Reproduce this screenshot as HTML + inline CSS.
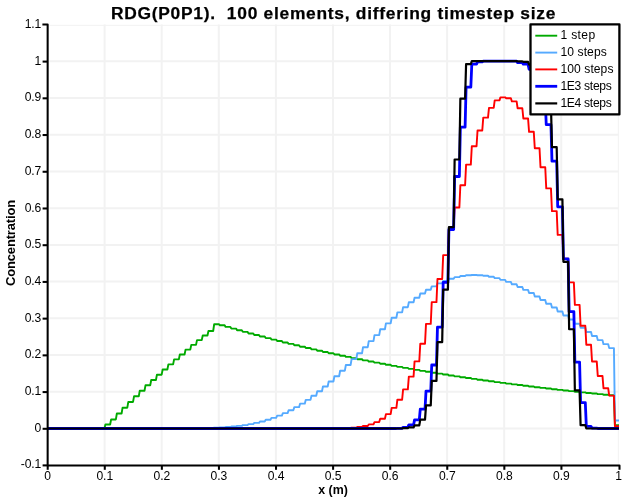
<!DOCTYPE html>
<html><head><meta charset="utf-8"><title>plot</title>
<style>
html,body{margin:0;padding:0;background:#fff;}
body{width:639px;height:504px;position:relative;overflow:hidden;font-family:"Liberation Sans",sans-serif;color:#000;}
.t,.yl,.xl,.lg,.xt,.yt{filter:grayscale(1)}
.t{position:absolute;left:0;width:667px;top:3px;text-align:center;font-weight:bold;font-size:17.4px;line-height:20px;white-space:pre;letter-spacing:0.72px;-webkit-text-stroke:0.25px #000}
.yl{position:absolute;left:0;width:41.3px;text-align:right;font-size:12.1px;line-height:14px;height:14px;letter-spacing:-0.05px}
.xl{position:absolute;top:469.3px;width:40px;text-align:center;font-size:12.1px;line-height:14px;letter-spacing:-0.05px}
.lg{position:absolute;left:560.4px;font-size:12.1px;line-height:14px;white-space:pre}
.xt{position:absolute;left:283px;width:100px;top:483.2px;text-align:center;font-weight:bold;font-size:12.4px;line-height:14px;white-space:pre}
.yt{position:absolute;left:-39px;top:236.4px;width:100px;height:14px;text-align:center;font-weight:bold;font-size:13px;letter-spacing:-0.15px;line-height:14px;transform:rotate(-90deg);transform-origin:50% 50%;white-space:pre}
</style></head><body>
<svg width="639" height="504" viewBox="0 0 639 504" style="position:absolute;left:0;top:0">
<defs><clipPath id="c"><rect x="47.7" y="20" width="571.30" height="450"/></clipPath></defs>
<g stroke="#f2f2f2" stroke-width="2" fill="none"><line x1="104.63" y1="24.5" x2="104.63" y2="464.4" /><line x1="161.71" y1="24.5" x2="161.71" y2="464.4" /><line x1="218.79" y1="24.5" x2="218.79" y2="464.4" /><line x1="275.87" y1="24.5" x2="275.87" y2="464.4" /><line x1="332.95" y1="24.5" x2="332.95" y2="464.4" /><line x1="390.03" y1="24.5" x2="390.03" y2="464.4" /><line x1="447.11" y1="24.5" x2="447.11" y2="464.4" /><line x1="504.19" y1="24.5" x2="504.19" y2="464.4" /><line x1="561.27" y1="24.5" x2="561.27" y2="464.4" /><line x1="49.5" y1="428.50" x2="618.5" y2="428.50" /><line x1="49.5" y1="391.78" x2="618.5" y2="391.78" /><line x1="49.5" y1="355.06" x2="618.5" y2="355.06" /><line x1="49.5" y1="318.34" x2="618.5" y2="318.34" /><line x1="49.5" y1="281.62" x2="618.5" y2="281.62" /><line x1="49.5" y1="244.90" x2="618.5" y2="244.90" /><line x1="49.5" y1="208.18" x2="618.5" y2="208.18" /><line x1="49.5" y1="171.46" x2="618.5" y2="171.46" /><line x1="49.5" y1="134.74" x2="618.5" y2="134.74" /><line x1="49.5" y1="98.02" x2="618.5" y2="98.02" /><line x1="49.5" y1="61.30" x2="618.5" y2="61.30" /></g>
<g stroke="#f2f2f2" stroke-width="1" fill="none"><line x1="618.3" y1="24.5" x2="618.3" y2="464.4" /><line x1="49.5" y1="25.3" x2="618.5" y2="25.3" /></g>
<g clip-path="url(#c)" fill="none" stroke-linejoin="round" stroke-linecap="butt">
<path d="M47.66 428.50 L104.41 428.50 L105.41 424.46 L110.13 424.46 L111.13 419.43 L115.86 419.43 L116.86 413.50 L121.58 413.50 L122.58 407.68 L127.31 407.68 L128.31 401.95 L133.03 401.95 L134.03 396.31 L138.76 396.31 L139.76 390.77 L144.49 390.77 L145.49 385.32 L150.21 385.32 L151.21 379.96 L155.94 379.96 L156.94 374.69 L161.66 374.69 L162.66 369.50 L167.38 369.50 L168.38 364.40 L173.11 364.40 L174.11 359.39 L178.84 359.39 L179.84 354.45 L184.56 354.45 L185.56 349.60 L190.28 349.60 L191.28 344.83 L196.01 344.83 L197.01 340.14 L201.74 340.14 L202.74 335.53 L207.46 335.53 L208.46 330.99 L213.18 330.99 L214.18 324.24 L218.91 324.24 L219.91 325.19 L224.63 325.19 L225.63 326.90 L230.36 326.90 L231.36 328.58 L236.09 328.58 L237.09 330.23 L241.81 330.23 L242.81 331.85 L247.53 331.85 L248.53 333.45 L253.26 333.45 L254.26 335.02 L258.99 335.02 L259.99 336.57 L264.71 336.57 L265.71 338.09 L270.44 338.09 L271.44 339.58 L276.16 339.58 L277.16 341.05 L281.88 341.05 L282.88 342.50 L287.61 342.50 L288.61 343.92 L293.33 343.92 L294.33 345.31 L299.06 345.31 L300.06 346.69 L304.78 346.69 L305.78 348.04 L310.51 348.04 L311.51 349.37 L316.24 349.37 L317.24 350.68 L321.96 350.68 L322.96 351.97 L327.68 351.97 L328.68 353.23 L333.41 353.23 L334.41 354.47 L339.13 354.47 L340.13 355.70 L344.86 355.70 L345.86 356.90 L350.59 356.90 L351.59 358.09 L356.31 358.09 L357.31 359.25 L362.03 359.25 L363.03 360.39 L367.76 360.39 L368.76 361.52 L373.49 361.52 L374.49 362.63 L379.21 362.63 L380.21 363.72 L384.93 363.72 L385.93 364.79 L390.66 364.79 L391.66 365.84 L396.38 365.84 L397.38 366.87 L402.11 366.87 L403.11 367.89 L407.84 367.89 L408.84 368.90 L413.56 368.90 L414.56 369.88 L419.28 369.88 L420.28 370.85 L425.01 370.85 L426.01 371.80 L430.74 371.80 L431.74 372.74 L436.46 372.74 L437.46 373.66 L442.18 373.66 L443.18 374.57 L447.91 374.57 L448.91 375.46 L453.63 375.46 L454.63 376.34 L459.36 376.34 L460.36 377.20 L465.09 377.20 L466.09 378.05 L470.81 378.05 L471.81 378.88 L476.53 378.88 L477.53 379.70 L482.26 379.70 L483.26 380.51 L487.99 380.51 L488.99 381.30 L493.71 381.30 L494.71 382.08 L499.44 382.08 L500.44 382.85 L505.16 382.85 L506.16 383.60 L510.88 383.60 L511.88 384.34 L516.61 384.34 L517.61 385.07 L522.33 385.07 L523.33 385.79 L528.06 385.79 L529.06 386.50 L533.78 386.50 L534.78 387.19 L539.51 387.19 L540.51 387.87 L545.24 387.87 L546.24 388.55 L550.96 388.55 L551.96 389.21 L556.69 389.21 L557.69 389.86 L562.41 389.86 L563.41 390.49 L568.13 390.49 L569.13 391.12 L573.86 391.12 L574.86 391.74 L579.59 391.74 L580.59 392.35 L585.31 392.35 L586.31 392.95 L591.03 392.95 L592.03 393.53 L596.76 393.53 L597.76 394.11 L602.48 394.11 L603.48 394.68 L608.21 394.68 L609.21 395.24 L613.93 395.24 L614.93 425.19 L620.16 425.19" stroke="#00aa00" stroke-width="1.9"/>
<path d="M47.66 428.50 L127.31 428.50 L128.31 428.50 L133.03 428.50 L134.03 428.50 L138.76 428.50 L139.76 428.50 L144.49 428.50 L145.49 428.50 L150.21 428.50 L151.21 428.50 L155.94 428.50 L156.94 428.50 L161.66 428.50 L162.66 428.49 L167.38 428.49 L168.38 428.49 L173.11 428.49 L174.11 428.48 L178.84 428.48 L179.84 428.46 L184.56 428.46 L185.56 428.42 L190.28 428.42 L191.28 428.37 L196.01 428.37 L197.01 428.29 L201.74 428.29 L202.74 428.17 L207.46 428.17 L208.46 428.00 L213.18 428.00 L214.18 427.78 L218.91 427.78 L219.91 427.47 L224.63 427.47 L225.63 427.07 L230.36 427.07 L231.36 426.55 L236.09 426.55 L237.09 425.90 L241.81 425.90 L242.81 425.08 L247.53 425.08 L248.53 424.09 L253.26 424.09 L254.26 422.90 L258.99 422.90 L259.99 421.48 L264.71 421.48 L265.71 419.81 L270.44 419.81 L271.44 417.88 L276.16 417.88 L277.16 415.66 L281.88 415.66 L282.88 413.14 L287.61 413.14 L288.61 410.31 L293.33 410.31 L294.33 407.15 L299.06 407.15 L300.06 403.67 L304.78 403.67 L305.78 399.85 L310.51 399.85 L311.51 395.72 L316.24 395.72 L317.24 391.27 L321.96 391.27 L322.96 386.52 L327.68 386.52 L328.68 381.49 L333.41 381.49 L334.41 376.21 L339.13 376.21 L340.13 370.71 L344.86 370.71 L345.86 365.02 L350.59 365.02 L351.59 359.17 L356.31 359.17 L357.31 353.22 L362.03 353.22 L363.03 347.20 L367.76 347.20 L368.76 341.17 L373.49 341.17 L374.49 335.16 L379.21 335.16 L380.21 329.23 L384.93 329.23 L385.93 323.42 L390.66 323.42 L391.66 317.78 L396.38 317.78 L397.38 312.35 L402.11 312.35 L403.11 307.18 L407.84 307.18 L408.84 302.30 L413.56 302.30 L414.56 297.75 L419.28 297.75 L420.28 293.56 L425.01 293.56 L426.01 289.75 L430.74 289.75 L431.74 286.36 L436.46 286.36 L437.46 283.39 L442.18 283.39 L443.18 280.87 L447.91 280.87 L448.91 278.79 L453.63 278.79 L454.63 277.17 L459.36 277.17 L460.36 276.01 L465.09 276.01 L466.09 275.29 L470.81 275.29 L471.81 275.03 L476.53 275.03 L477.53 275.19 L482.26 275.19 L483.26 275.77 L487.99 275.77 L488.99 276.76 L493.71 276.76 L494.71 278.13 L499.44 278.13 L500.44 279.86 L505.16 279.86 L506.16 281.92 L510.88 281.92 L511.88 284.30 L516.61 284.30 L517.61 286.97 L522.33 286.97 L523.33 289.90 L528.06 289.90 L529.06 293.06 L533.78 293.06 L534.78 296.43 L539.51 296.43 L540.51 299.98 L545.24 299.98 L546.24 303.69 L550.96 303.69 L551.96 307.52 L556.69 307.52 L557.69 311.46 L562.41 311.46 L563.41 315.48 L568.13 315.48 L569.13 319.56 L573.86 319.56 L574.86 323.68 L579.59 323.68 L580.59 327.81 L585.31 327.81 L586.31 331.95 L591.03 331.95 L592.03 336.06 L596.76 336.06 L597.76 340.14 L602.48 340.14 L603.48 344.17 L608.21 344.17 L609.21 348.13 L613.93 348.13 L614.93 420.56 L620.16 420.56" stroke="#55aaff" stroke-width="1.9"/>
<path d="M47.66 428.50 L258.99 428.50 L264.71 428.50 L265.71 428.50 L270.44 428.50 L271.44 428.50 L276.16 428.50 L277.16 428.50 L281.88 428.50 L282.88 428.50 L287.61 428.50 L288.61 428.50 L293.33 428.50 L294.33 428.50 L299.06 428.50 L300.06 428.50 L304.78 428.50 L305.78 428.50 L310.51 428.50 L311.51 428.49 L316.24 428.49 L317.24 428.48 L321.96 428.48 L322.96 428.46 L327.68 428.46 L328.68 428.43 L333.41 428.43 L334.41 428.36 L339.13 428.36 L340.13 428.23 L344.86 428.23 L345.86 428.00 L350.59 428.00 L351.59 427.61 L356.31 427.61 L357.31 426.98 L362.03 426.98 L363.03 425.96 L367.76 425.96 L368.76 424.41 L373.49 424.41 L374.49 422.10 L379.21 422.10 L380.21 418.77 L384.93 418.77 L385.93 414.14 L390.66 414.14 L391.66 407.89 L396.38 407.89 L397.38 399.72 L402.11 399.72 L403.11 389.36 L407.84 389.36 L408.84 376.61 L413.56 376.61 L414.56 361.39 L419.28 361.39 L420.28 343.75 L425.01 343.75 L426.01 323.88 L430.74 323.88 L431.74 302.14 L436.46 302.14 L437.46 279.01 L442.18 279.01 L443.18 255.10 L447.91 255.10 L448.91 228.95 L453.63 228.95 L454.63 207.55 L459.36 207.55 L460.36 185.23 L465.09 185.23 L466.09 164.65 L470.81 164.65 L471.81 146.30 L476.53 146.30 L477.53 130.54 L482.26 130.54 L483.26 117.66 L487.99 117.66 L488.99 107.85 L493.71 107.85 L494.71 100.40 L499.44 100.40 L500.44 97.35 L505.16 97.35 L506.16 98.19 L510.88 98.19 L511.88 101.41 L516.61 101.41 L517.61 108.25 L522.33 108.25 L523.33 118.43 L528.06 118.43 L529.06 131.82 L533.78 131.82 L534.78 148.19 L539.51 148.19 L540.51 167.20 L545.24 167.20 L546.24 188.37 L550.96 188.37 L551.96 211.13 L556.69 211.13 L557.69 234.84 L562.41 234.84 L563.41 258.81 L568.13 258.81 L569.13 282.35 L573.86 282.35 L574.86 304.85 L579.59 304.85 L580.59 325.78 L585.31 325.78 L586.31 344.75 L591.03 344.75 L592.03 361.51 L596.76 361.51 L597.76 375.93 L602.48 375.93 L603.48 388.26 L608.21 388.26 L609.21 395.61 L613.93 395.61 L614.93 426.11 L620.16 426.11" stroke="#ff0000" stroke-width="1.9"/>
<path d="M47.66 428.50 L396.38 428.50 L397.38 428.28 L402.11 428.28 L403.11 427.29 L407.84 427.29 L408.84 424.90 L413.56 424.90 L414.56 419.86 L419.28 419.86 L420.28 409.21 L425.01 409.21 L426.01 391.13 L430.74 391.13 L431.74 365.00 L436.46 365.00 L437.46 327.22 L442.18 327.22 L443.18 282.42 L447.91 282.42 L448.91 229.50 L453.63 229.50 L454.63 176.51 L459.36 176.51 L460.36 127.15 L465.09 127.15 L466.09 87.20 L470.81 87.20 L471.81 64.05 L476.53 64.05 L477.53 61.92 L482.26 61.92 L483.26 61.18 L516.61 61.18 L517.61 62.62 L522.33 62.62 L523.33 64.16 L528.06 64.16 L529.06 69.23 L533.78 69.23 L534.78 81.21 L539.51 81.21 L540.51 99.59 L545.24 99.59 L546.24 124.69 L550.96 124.69 L551.96 161.14 L556.69 161.14 L557.69 206.79 L562.41 206.79 L563.41 258.86 L568.13 258.86 L569.13 311.63 L573.86 311.63 L574.86 362.20 L579.59 362.20 L580.59 402.59 L585.31 402.59 L586.31 426.30 L591.03 426.30 L592.03 428.13 L596.76 428.13 L597.76 428.50 L620.16 428.50" stroke="#0000ff" stroke-width="2.8"/>
<path d="M47.66 428.50 L402.11 428.50 L403.11 428.13 L407.84 428.13 L408.84 427.40 L413.56 427.40 L414.56 425.41 L419.28 425.41 L420.28 419.68 L425.01 419.68 L426.01 405.42 L430.74 405.42 L431.74 380.87 L436.46 380.87 L437.46 342.14 L442.18 342.14 L443.18 289.70 L447.91 289.70 L448.91 227.22 L453.63 227.22 L454.63 159.49 L459.36 159.49 L460.36 98.67 L465.09 98.67 L466.09 64.05 L470.81 64.05 L471.81 61.18 L516.61 61.18 L517.61 61.37 L522.33 61.37 L523.33 61.85 L528.06 61.85 L529.06 64.68 L533.78 64.68 L534.78 70.19 L539.51 70.19 L540.51 83.05 L545.24 83.05 L546.24 105.10 L550.96 105.10 L551.96 147.18 L556.69 147.18 L557.69 199.29 L562.41 199.29 L563.41 261.80 L568.13 261.80 L569.13 329.27 L573.86 329.27 L574.86 390.43 L579.59 390.43 L580.59 425.19 L585.31 425.19 L586.31 428.50 L620.16 428.50" stroke="#000000" stroke-width="2.2"/>
</g>
<g stroke="#000" stroke-width="2.05" fill="none" stroke-linejoin="round" stroke-linecap="butt"><path d="M42.4 24.4 H47.65 V465.4 H619.5 V469.8" /><path d="M42.6 428.80 H47.65"/><path d="M42.6 392.08 H47.65"/><path d="M42.6 355.36 H47.65"/><path d="M42.6 318.64 H47.65"/><path d="M42.6 281.92 H47.65"/><path d="M42.6 245.20 H47.65"/><path d="M42.6 208.48 H47.65"/><path d="M42.6 171.76 H47.65"/><path d="M42.6 135.04 H47.65"/><path d="M42.6 98.32 H47.65"/><path d="M42.6 61.60 H47.65"/><path d="M42.6 465.4 H47.65"/><path d="M47.70 465.4 V469.8"/><path d="M104.78 465.4 V469.8"/><path d="M161.86 465.4 V469.8"/><path d="M218.94 465.4 V469.8"/><path d="M276.02 465.4 V469.8"/><path d="M333.10 465.4 V469.8"/><path d="M390.18 465.4 V469.8"/><path d="M447.26 465.4 V469.8"/><path d="M504.34 465.4 V469.8"/><path d="M561.42 465.4 V469.8"/></g>
<rect x="530.5" y="24.4" width="88.9" height="90" fill="#fff" stroke="#000" stroke-width="2.3" stroke-linejoin="round"/>
<line x1="535.3" x2="557.2" y1="35.7" y2="35.7" stroke="#00aa00" stroke-width="1.9"/>
<line x1="535.3" x2="557.2" y1="52.6" y2="52.6" stroke="#55aaff" stroke-width="1.9"/>
<line x1="535.3" x2="557.2" y1="69.4" y2="69.4" stroke="#ff0000" stroke-width="1.9"/>
<line x1="535.3" x2="557.2" y1="86.3" y2="86.3" stroke="#0000ff" stroke-width="2.8"/>
<line x1="535.3" x2="557.2" y1="103.4" y2="103.4" stroke="#000000" stroke-width="2.2"/>
</svg>
<div class="t">RDG(P0P1).  100 elements, differing timestep size</div>
<div class="yl" style="top:456.92px">-0.1</div>
<div class="yl" style="top:420.90px">0</div>
<div class="yl" style="top:384.18px">0.1</div>
<div class="yl" style="top:347.46px">0.2</div>
<div class="yl" style="top:310.74px">0.3</div>
<div class="yl" style="top:274.02px">0.4</div>
<div class="yl" style="top:237.30px">0.5</div>
<div class="yl" style="top:200.58px">0.6</div>
<div class="yl" style="top:163.86px">0.7</div>
<div class="yl" style="top:127.14px">0.8</div>
<div class="yl" style="top:90.42px">0.9</div>
<div class="yl" style="top:53.70px">1</div>
<div class="yl" style="top:16.98px">1.1</div>
<div class="xl" style="left:27.70px">0</div>
<div class="xl" style="left:84.78px">0.1</div>
<div class="xl" style="left:141.86px">0.2</div>
<div class="xl" style="left:198.94px">0.3</div>
<div class="xl" style="left:256.02px">0.4</div>
<div class="xl" style="left:313.10px">0.5</div>
<div class="xl" style="left:370.18px">0.6</div>
<div class="xl" style="left:427.26px">0.7</div>
<div class="xl" style="left:484.34px">0.8</div>
<div class="xl" style="left:541.42px">0.9</div>
<div class="xl" style="left:598.60px">1</div>
<div class="lg" style="top:28.10px;letter-spacing:0.36px">1 step</div>
<div class="lg" style="top:45.00px;letter-spacing:0.10px">10 steps</div>
<div class="lg" style="top:61.80px;letter-spacing:0.08px">100 steps</div>
<div class="lg" style="top:78.70px;letter-spacing:-0.30px">1E3 steps</div>
<div class="lg" style="top:95.80px;letter-spacing:-0.30px">1E4 steps</div>
<div class="xt">x (m)</div>
<div class="yt">Concentration</div>
</body></html>
